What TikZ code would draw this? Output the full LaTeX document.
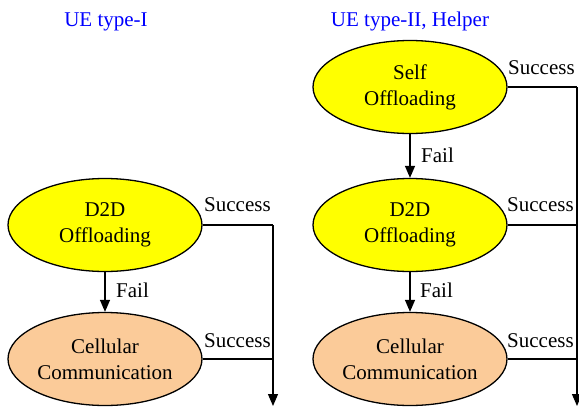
\documentclass[tikz,border=0pt]{standalone}
\usepackage{fontspec}
\setmainfont{Liberation Serif}
\usetikzlibrary{shapes.geometric,arrows.meta}
\definecolor{ylw}{RGB}{255,255,0}
\definecolor{peach}{RGB}{251,203,153}
\begin{document}
\begin{tikzpicture}[x=1pt,y=-1pt,
  font=\fontsize{21}{26}\selectfont,
  proc/.style={ellipse, draw=black, line width=1.3pt, minimum width=194pt, minimum height=93pt, inner sep=0pt, align=center},
  conn/.style={line width=1.3pt},
  arr/.style={conn, -{Triangle[length=12pt,width=10pt]}},
  lbl/.style={anchor=base west, inner sep=0pt},
  ttl/.style={anchor=base, inner sep=0pt, text=blue}]
\useasboundingbox (0,0) rectangle (579,407);
% titles
\node[ttl] (t1) at (106,26) {UE type-I};
\node[ttl] (t2) at (410,26) {UE type-II, Helper};
% left column
\node[proc, fill=ylw] (d2dL) at (105,225) {D2D\\Offloading};
\node[proc, fill=peach] (cellL) at (105,359) {Cellular\\Communication};
\coordinate (jL) at (273,225);
\coordinate (endL) at (273,406);
\draw[conn] (d2dL.east) -- (jL);
\draw[arr] (jL) -- (endL);
\draw[conn] (cellL.east) -- (cellL.east -| jL);
\draw[arr] (d2dL.south) -- (cellL.north);
\node[lbl] (sL1) at (204,211) {Success};
\node[lbl] (sL2) at (204,347) {Success};
\node[lbl] (fL1) at (116,297) {Fail};
% right column
\node[proc, fill=ylw] (self) at (410,87) {Self\\Offloading};
\node[proc, fill=ylw] (d2dR) at (410,225) {D2D\\Offloading};
\node[proc, fill=peach] (cellR) at (410,359) {Cellular\\Communication};
\coordinate (jR) at (577,87);
\coordinate (endR) at (577,406);
\draw[conn] (self.east) -- (jR);
\draw[arr] (jR) -- (endR);
\draw[conn] (d2dR.east) -- (d2dR.east -| jR);
\draw[conn] (cellR.east) -- (cellR.east -| jR);
\draw[arr] (self.south) -- (d2dR.north);
\draw[arr] (d2dR.south) -- (cellR.north);
\node[lbl] (sR1) at (508,74) {Success};
\node[lbl] (sR2) at (507,211) {Success};
\node[lbl] (sR3) at (507,347) {Success};
\node[lbl] (fR1) at (421,162) {Fail};
\node[lbl] (fR2) at (420,297) {Fail};
\end{tikzpicture}
\end{document}
